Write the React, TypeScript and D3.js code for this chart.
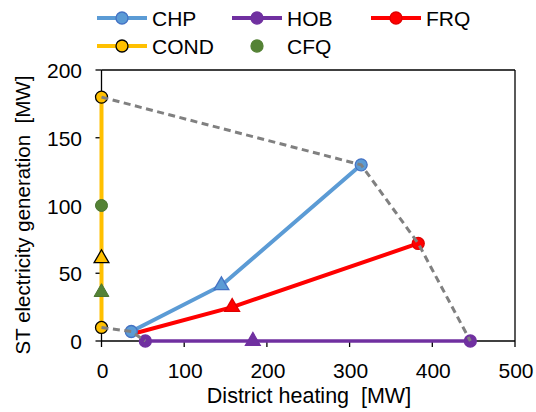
import React from "react";
import * as d3 from "d3";

type Pt = { x: number; y: number; m: "circle" | "triangle" | "none" };

const chpPoints: Pt[] = [
  { x: 36, y: 7, m: "circle" },
  { x: 145, y: 41, m: "triangle" },
  { x: 314, y: 130, m: "circle" },
];
const hobPoints: Pt[] = [
  { x: 53, y: 0, m: "circle" },
  { x: 183, y: 0, m: "triangle" },
  { x: 446, y: 0, m: "circle" },
];
const frqPoints: Pt[] = [
  { x: 36, y: 5, m: "none" },
  { x: 158, y: 25, m: "triangle" },
  { x: 383, y: 72, m: "circle" },
];
const condPoints: Pt[] = [
  { x: 0, y: 10, m: "circle" },
  { x: 0, y: 61, m: "triangle" },
  { x: 0, y: 180, m: "circle" },
];
const cfqPoints: Pt[] = [
  { x: 0, y: 100, m: "circle" },
  { x: 0, y: 36, m: "triangle" },
];
const boundaryUpper = [
  { x: 0, y: 180 },
  { x: 314, y: 130 },
  { x: 383, y: 72 },
  { x: 446, y: 0 },
];
const boundaryLower = [
  { x: 0, y: 10 },
  { x: 36, y: 7 },
  { x: 53, y: 0 },
];
const xTicks = [0, 100, 200, 300, 400, 500];
const yTicks = [0, 50, 100, 150, 200];

const W = 536;
const H = 412;
const left = 101.5;
const right = 515;
const top = 70;
const bottom = 341;

const FONT = "'Liberation Sans', Arial, sans-serif";

export default function App() {
  const x = d3.scaleLinear().domain([0, 500]).range([left, right]);
  const y = d3.scaleLinear().domain([0, 200]).range([bottom, top]);
  const line = d3
    .line<{ x: number; y: number }>()
    .x((d) => x(d.x))
    .y((d) => y(d.y));
  const tri = d3.symbol().type(d3.symbolTriangle).size(95)();

  const marker = (p: Pt, fill: string, stroke: string, key: string, sw = 1.3) => {
    if (p.m === "circle")
      return <circle key={key} cx={x(p.x)} cy={y(p.y)} r={6} fill={fill} stroke={stroke} strokeWidth={sw} />;
    if (p.m === "triangle")
      return (
        <path
          key={key}
          d={tri || ""}
          transform={`translate(${x(p.x)},${y(p.y)})`}
          fill={fill}
          stroke={stroke}
          strokeWidth={sw}
        />
      );
    return null;
  };

  const series = [
    { pts: chpPoints, color: "#5B9BD5", mfill: "#5B9BD5", mstroke: "#4472C4", w: 4 },
    { pts: frqPoints, color: "#FF0000", mfill: "#FF0000", mstroke: "#E00000", w: 4 },
    { pts: hobPoints, color: "#7030A0", mfill: "#7030A0", mstroke: "#7030A0", w: 3.5 },
  ];

  const legendItems = [
    { label: "CHP", lx: 97, ly: 18, color: "#5B9BD5", mfill: "#5B9BD5", mstroke: "#4472C4", line: true },
    { label: "HOB", lx: 232, ly: 18, color: "#7030A0", mfill: "#7030A0", mstroke: "#7030A0", line: true },
    { label: "FRQ", lx: 371, ly: 18, color: "#FF0000", mfill: "#FF0000", mstroke: "#E00000", line: true },
    { label: "COND", lx: 97, ly: 46, color: "#FFC000", mfill: "#FFC000", mstroke: "#000000", line: true },
    { label: "CFQ", lx: 232, ly: 46, color: "#548235", mfill: "#548235", mstroke: "#548235", line: false },
  ];

  return (
    <svg width={W} height={H} style={{ display: "block", position: "absolute", left: 0, top: 0 }}>
      <rect width={W} height={H} fill="#fff" />
      <line x1={left} x2={right} y1={top} y2={top} stroke="#000" strokeWidth={1.3} />
      <line x1={right} x2={right} y1={top} y2={bottom} stroke="#000" strokeWidth={1.3} />
      <line x1={left} x2={left} y1={top} y2={bottom} stroke="#000" strokeWidth={1.3} />
      <line x1={left} x2={right} y1={bottom} y2={bottom} stroke="#000" strokeWidth={1.3} />
      {xTicks.map((t) => (
        <g key={"xt" + t}>
          <line x1={x(t)} x2={x(t)} y1={bottom} y2={bottom + 6} stroke="#000" strokeWidth={1.3} />
          <text x={x(t) + 1} y={bottom + 37} textAnchor="middle" fontFamily={FONT} fontSize={21} fill="#000">
            {t}
          </text>
        </g>
      ))}
      {yTicks.map((t) => (
        <g key={"yt" + t}>
          <line x1={left - 6} x2={left} y1={y(t)} y2={y(t)} stroke="#000" strokeWidth={1.3} />
          <text x={82} y={y(t) + 8} textAnchor="end" fontFamily={FONT} fontSize={21} fill="#000">
            {t}
          </text>
        </g>
      ))}
      <text x={309} y={403} textAnchor="middle" fontFamily={FONT} fontSize={21.5} fill="#000" style={{ whiteSpace: "pre" }}>
        {"District heating  [MW]"}
      </text>
      <text
        transform={`translate(30,215) rotate(-90)`}
        textAnchor="middle"
        fontFamily={FONT}
        fontSize={20.5}
        fill="#000"
        style={{ whiteSpace: "pre" }}
      >
        {"ST electricity generation  [MW]"}
      </text>

      <path d={line(condPoints) || ""} fill="none" stroke="#FFC000" strokeWidth={4} />
      {series.map((s, i) => (
        <path key={"l" + i} d={line(s.pts) || ""} fill="none" stroke={s.color} strokeWidth={s.w} />
      ))}
      {series.map((s, i) => s.pts.map((p, j) => marker(p, s.mfill, s.mstroke, `m${i}-${j}`)))}
      {condPoints.map((p, j) => marker(p, "#FFC000", "#000", "c" + j, 1.3))}
      {cfqPoints.map((p, j) => marker(p, "#548235", "#4A7530", "g" + j, 1))}
      <path d={line(boundaryUpper) || ""} fill="none" stroke="#808080" strokeWidth={3} strokeDasharray="7,4.5" />
      <path d={line(boundaryLower) || ""} fill="none" stroke="#808080" strokeWidth={3} strokeDasharray="7,4.5" />

      {legendItems.map((it) => (
        <g key={it.label}>
          {it.line && <line x1={it.lx} x2={it.lx + 50} y1={it.ly} y2={it.ly} stroke={it.color} strokeWidth={4} />}
          <circle cx={it.lx + 25} cy={it.ly} r={6} fill={it.mfill} stroke={it.mstroke} strokeWidth={1.3} />
          <text x={it.lx + 55} y={it.ly + 7.5} fontFamily={FONT} fontSize={21} fill="#000">
            {it.label}
          </text>
        </g>
      ))}
    </svg>
  );
}
